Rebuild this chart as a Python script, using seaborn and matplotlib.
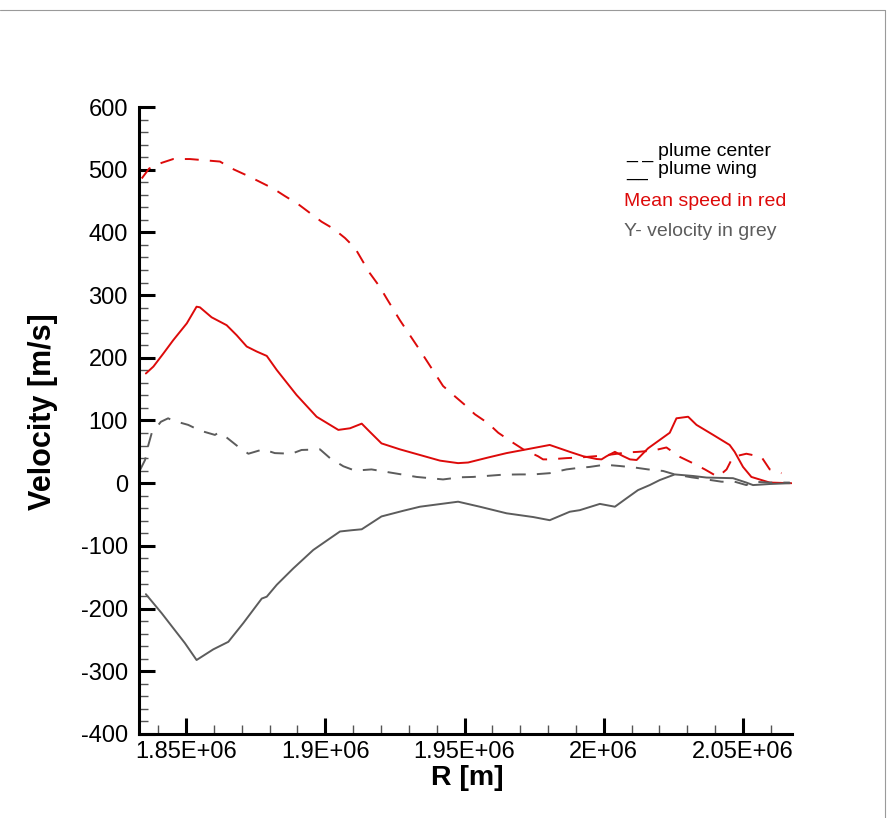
import numpy as np
import pandas as pd
import matplotlib
matplotlib.use("Agg")
import matplotlib.pyplot as plt
from matplotlib.lines import Line2D
from matplotlib.ticker import MultipleLocator, FixedLocator
import seaborn as sns

# ---------------- data (R in km, velocity in m/s) ----------------
r_center_speed = [1834.1, 1836.8, 1841.3, 1845.4, 1851.4, 1856.8, 1862.2, 1866.4, 1871.8, 1875.9,
                  1881.3, 1885.5, 1890.3, 1893.9, 1898.7, 1902.9, 1907.1, 1910.7, 1913.6, 1916.0,
                  1919.6, 1922.0, 1926.8, 1934.0, 1942.3, 1945.9, 1950.1, 1953.7, 1958.5, 1962.1,
                  1966.9, 1971.1, 1976.4, 1978.2, 1980.6, 1986.6, 1991.4, 1996.8, 1999.8, 2008.2,
                  2012.3, 2017.7, 2022.5, 2027.3, 2031.5, 2036.3, 2041.0, 2044.1, 2046.4, 2051.2,
                  2056.6, 2059.6, 2063.8]
v_center_speed = [486, 502, 511, 517, 517, 515, 513, 502, 491, 482,
                  470, 458, 445, 433, 417, 406, 391, 375, 353, 335,
                  313, 295, 260, 212, 155, 141, 125, 110, 95.5, 80.5,
                  66, 54, 43, 38, 38, 40, 41, 43, 44, 49,
                  50, 52, 57, 42, 33, 22, 10, 22, 42, 47,
                  42, 22, 16]

r_wing_speed = [1835.6, 1838.3, 1841.9, 1845.4, 1850.3, 1853.8, 1855.0, 1859.2, 1864.6, 1868.2,
                1871.8, 1875.4, 1879.0, 1882.6, 1889.7, 1896.9, 1904.7, 1908.9, 1913.1, 1916.0,
                1920.2, 1926.8, 1934.0, 1941.2, 1947.7, 1951.3, 1958.5, 1965.1, 1972.9, 1980.6,
                1987.8, 1992.6, 1997.4, 1999.2, 2001.0, 2004.0, 2007.0, 2009.4, 2011.8, 2015.9,
                2020.1, 2023.7, 2026.1, 2030.3, 2033.3, 2039.3, 2045.2, 2047.0, 2050.0, 2053.0,
                2059.6, 2067.4]
v_wing_speed = [175, 186, 207, 228, 255, 281.5, 280.5, 264.6, 252, 236,
                218, 210, 203, 180.5, 140.7, 106, 85, 87.6, 95, 82,
                63.5, 54, 45, 36, 32, 33, 41, 48, 54.5, 61,
                50, 43, 38.6, 38, 43, 50, 43, 38, 37, 55.6,
                69, 80.5, 103.5, 106, 93, 77, 61, 50, 26, 10,
                1, 0]

r_center_vy = [1833.5, 1835.3, 1836.5, 1837.7, 1841.0, 1843.6, 1845.2, 1850.8, 1855.0, 1860.4,
               1861.6, 1864.0, 1868.8, 1872.4, 1877.7, 1881.9, 1887.9, 1891.5, 1898.1, 1901.7,
               1906.5, 1910.7, 1916.6, 1922.0, 1927.4, 1932.8, 1937.6, 1942.3, 1948.3, 1953.1,
               1959.1, 1963.9, 1969.9, 1974.7, 1980.6, 1986.6, 1990.2, 1995.0, 2000.4, 2005.8,
               2011.1, 2015.9, 2021.3, 2025.5, 2031.5, 2036.9, 2042.3, 2047.0, 2051.2, 2053.6,
               2059.6, 2066.8]
v_center_vy = [21, 37, 61, 80, 98, 103.5, 100, 93, 84, 77,
               80.5, 75, 58, 47, 54, 48, 47, 53, 54, 40,
               27, 20, 22, 18, 14, 10, 8, 6, 9.4, 10,
               12, 13.6, 14, 14, 16, 22, 24, 26, 29.5, 27.4,
               25, 22, 19.5, 14, 9.4, 6, 2.4, 2.4, -3, 2.4,
               1, 1]

r_wing_vy = [1835.6, 1841.3, 1845.4, 1849.6, 1853.8, 1859.8, 1865.2, 1870.6, 1877.2, 1879.0,
             1882.6, 1888.5, 1895.7, 1901.7, 1905.3, 1909.5, 1913.1, 1920.2, 1928.0, 1934.0,
             1947.7, 1955.5, 1965.1, 1974.7, 1980.6, 1987.8, 1991.4, 1998.6, 2004.0, 2008.2,
             2012.3, 2016.5, 2020.1, 2025.5, 2032.1, 2036.9, 2046.4, 2051.2, 2053.6, 2059.6,
             2066.8]
v_wing_vy = [-177, -207.5, -231, -255, -282, -265, -253, -223, -184, -181,
             -162, -136, -106.5, -88, -77, -75, -73.5, -53, -44, -37.5,
             -29.5, -37.5, -48, -54, -59, -45.5, -43, -33, -37.5, -24,
             -11, -3, 5, 14, 11.5, 9, 8, 1, -3, -1.3,
             0]

x_tick_values = [1.85e6, 1.9e6, 1.95e6, 2.0e6, 2.05e6]
x_tick_labels = ["1.85E+06", "1.9E+06", "1.95E+06", "2E+06", "2.05E+06"]
y_tick_values = [-400, -300, -200, -100, 0, 100, 200, 300, 400, 500, 600]
legend_lines = ["_ _", "__"]
legend_names = ["plume center", "plume wing"]
note_texts = ["Mean speed in red", "Y- velocity in grey"]

# ---------------- style ----------------
sns.set_theme(style="white")
plt.rcParams['font.family'] = ['Liberation Sans', 'DejaVu Sans']
plt.rcParams['lines.scale_dashes'] = False
plt.rcParams['axes.unicode_minus'] = False

RED = "#dd0a0a"
GREY = "#5c5c5c"
W, H = 889, 818
fig = plt.figure(figsize=(W / 100, H / 100), dpi=100)
fig.patch.set_facecolor("white")
ax = fig.add_axes([139 / W, 1 - 734 / H, (792 - 139) / W, (734 - 107) / H])
ax.set_facecolor("white")

def frame(r, v):
    return pd.DataFrame({"R": np.asarray(r) * 1000.0, "V": v})

lw = 1.4
sns.lineplot(data=frame(r_center_speed, v_center_speed), x="R", y="V", ax=ax, color=RED,
             lw=lw, estimator=None, sort=False, linestyle=(0, (10, 8)))
sns.lineplot(data=frame(r_wing_speed, v_wing_speed), x="R", y="V", ax=ax, color=RED,
             lw=lw, estimator=None, sort=False)
sns.lineplot(data=frame(r_center_vy, v_center_vy), x="R", y="V", ax=ax, color=GREY,
             lw=lw, estimator=None, sort=False, linestyle=(0, (10, 8)))
sns.lineplot(data=frame(r_wing_vy, v_wing_vy), x="R", y="V", ax=ax, color=GREY,
             lw=lw, estimator=None, sort=False)

ax.set_xlim(1833130, 2067588)
ax.set_ylim(-400, 600)
ax.set_xlabel("")
ax.set_ylabel("")

for s in ["top", "right"]:
    ax.spines[s].set_visible(False)
for s in ["left", "bottom"]:
    ax.spines[s].set_color("black")
    ax.spines[s].set_linewidth(2.2)

ax.xaxis.set_major_locator(FixedLocator(x_tick_values))
ax.set_xticklabels(x_tick_labels)
ax.xaxis.set_minor_locator(MultipleLocator(10000))
ax.yaxis.set_major_locator(FixedLocator(y_tick_values))
ax.yaxis.set_minor_locator(MultipleLocator(20))
ax.tick_params(which="major", direction="in", length=11.5, width=2.2, color="black",
               labelsize=17, labelcolor="black")
ax.tick_params(which="minor", direction="in", length=6.5, width=1.0, color="#555555")
ax.tick_params(axis="y", which="major", pad=8)
ax.tick_params(axis="x", which="major", pad=5)
ax.tick_params(bottom=True, left=True, which="both")

# axis titles
fig.text(467 / W, 1 - 778 / H, "R [m]", ha="center", va="center", fontsize=20.5,
         fontweight="bold", color="black")
fig.text(43 / W, 1 - 412 / H, "Velocity [m/s]", ha="center", va="center", fontsize=22,
         fontweight="bold", color="black", rotation=90)

# legend-like notes
fig.text(626 / W, 1 - 153 / H, legend_lines[0], ha="left", va="center", fontsize=14, color="black")
fig.text(626 / W, 1 - 172 / H, legend_lines[1], ha="left", va="center", fontsize=14, color="black")
fig.text(658 / W, 1 - 151 / H, legend_names[0], ha="left", va="center", fontsize=14, color="black")
fig.text(658 / W, 1 - 170 / H, legend_names[1], ha="left", va="center", fontsize=14, color="black")
fig.text(624 / W, 1 - 202 / H, note_texts[0], ha="left", va="center", fontsize=14, color=RED)
fig.text(624 / W, 1 - 231 / H, note_texts[1], ha="left", va="center", fontsize=14, color=GREY)

# thin outer frame (top and right)
fig.add_artist(Line2D([0, 885 / W], [1 - 10 / H, 1 - 10 / H], transform=fig.transFigure,
                      color="#9a9a9a", lw=0.8))
fig.add_artist(Line2D([885 / W, 885 / W], [1 - 10 / H, 0], transform=fig.transFigure,
                      color="#9a9a9a", lw=0.8))

fig.savefig("out.png", dpi=100)
